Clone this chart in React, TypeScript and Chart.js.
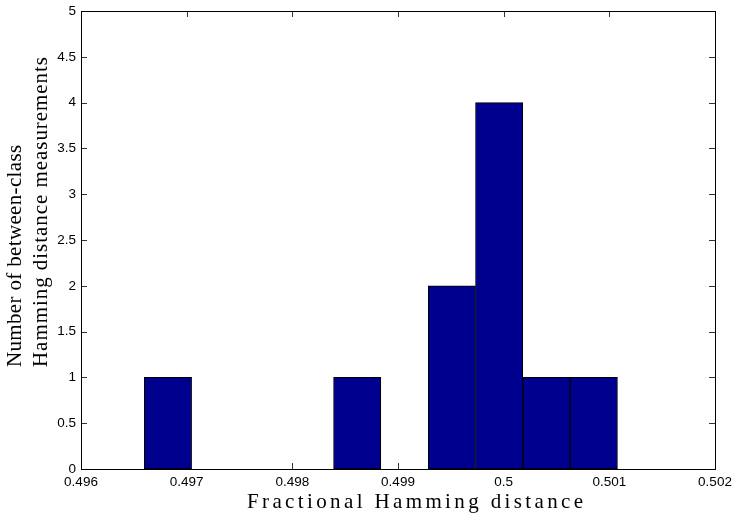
import React, { useEffect, useRef } from 'react';
import { Chart, registerables } from 'chart.js';

Chart.register(...registerables);

// ---- data ----
const binEdges = [0.496599, 0.497047, 0.497495, 0.497943, 0.49839, 0.498838, 0.499286, 0.499734, 0.500181, 0.500629, 0.501077];
const binCounts = [1, 0, 0, 0, 1, 0, 2, 4, 1, 1];
const xTickValues = [0.496, 0.497, 0.498, 0.499, 0.5, 0.501, 0.502];
const xTickLabels = ['0.496', '0.497', '0.498', '0.499', '0.5', '0.501', '0.502'];
const yTickValues = [0, 0.5, 1, 1.5, 2, 2.5, 3, 3.5, 4, 4.5, 5];
const yTickLabels = ['0', '0.5', '1', '1.5', '2', '2.5', '3', '3.5', '4', '4.5', '5'];
const xTitle = 'Fractional Hamming distance';
const yTitleLines = ['Number of between-class', 'Hamming distance measurements'];

// ---- styles ----
const BAR_FILL = 'rgb(0,0,143)';
const TICK_FONT = { family: '"Liberation Sans", Arial, sans-serif', size: 13.5 };
const TITLE_FONT = '21px "Liberation Serif", "Times New Roman", serif';
const TICK_LEN = 6;

function drawSpaced(ctx: CanvasRenderingContext2D, text: string, x: number, y: number, targetWidth: number) {
  const anyCtx = ctx as any;
  anyCtx.letterSpacing = '0px';
  const w = ctx.measureText(text).width;
  const n = Array.from(text).length;
  const ls = n > 1 ? Math.max(0, (targetWidth - w) / (n - 1)) : 0;
  anyCtx.letterSpacing = ls.toFixed(2) + 'px';
  ctx.fillText(text, x, y);
  anyCtx.letterSpacing = '0px';
}

const matlabAxesPlugin = {
  id: 'matlabAxes',
  beforeDatasetsDraw(chart: any) {
    const { ctx, chartArea: a, scales } = chart;
    const x = scales.x;
    const y = scales.y;
    ctx.save();
    ctx.strokeStyle = '#333';
    ctx.lineWidth = 1;
    ctx.beginPath();
    x.ticks.forEach((_t: any, i: number) => {
      const px = Math.round(x.getPixelForTick(i)) + 0.5;
      ctx.moveTo(px, a.bottom);
      ctx.lineTo(px, a.bottom - TICK_LEN);
      ctx.moveTo(px, a.top);
      ctx.lineTo(px, a.top + TICK_LEN);
    });
    y.ticks.forEach((_t: any, i: number) => {
      const py = Math.round(y.getPixelForTick(i)) + 0.5;
      ctx.moveTo(a.left, py);
      ctx.lineTo(a.left + TICK_LEN, py);
      ctx.moveTo(a.right, py);
      ctx.lineTo(a.right - TICK_LEN, py);
    });
    ctx.stroke();
    ctx.restore();
  },
  afterDatasetsDraw(chart: any) {
    const { ctx, chartArea: a } = chart;
    ctx.save();
    ctx.strokeStyle = '#000';
    ctx.lineWidth = 1;
    ctx.strokeRect(Math.round(a.left) + 0.5, Math.round(a.top) + 0.5, Math.round(a.right - a.left), Math.round(a.bottom - a.top));
    ctx.restore();
  },
  afterDraw(chart: any) {
    const { ctx } = chart;
    ctx.save();
    ctx.fillStyle = '#000';
    ctx.font = TITLE_FONT;
    ctx.textBaseline = 'alphabetic';
    ctx.textAlign = 'left';
    drawSpaced(ctx, xTitle, 247, 508, 336);
    ctx.rotate(-Math.PI / 2);
    // rotated: x' = -y, y' = x
    drawSpaced(ctx, yTitleLines[0], -367, 21, 222);
    drawSpaced(ctx, yTitleLines[1], -367, 47, 310);
    ctx.restore();
  },
};

export default function App() {
  const canvasRef = useRef<HTMLCanvasElement | null>(null);

  useEffect(() => {
    const canvas = canvasRef.current;
    if (!canvas) return;
    const points = binCounts.map((c, i) => ({ x: (binEdges[i] + binEdges[i + 1]) / 2, y: c }));
    const chart = new Chart(canvas, {
      type: 'bar',
      data: {
        datasets: [
          {
            data: points as any,
            backgroundColor: BAR_FILL,
            borderColor: '#000',
            borderWidth: 1,
            borderSkipped: false,
            barPercentage: 1,
            categoryPercentage: 1,
          },
        ],
      },
      options: {
        animation: false,
        responsive: true,
        maintainAspectRatio: false,
        layout: { padding: { left: 0, top: 11, right: 18, bottom: 0 } },
        plugins: { legend: { display: false }, tooltip: { enabled: false } },
        scales: {
          x: {
            type: 'linear',
            min: 0.496,
            max: 0.502,
            offset: false,
            afterBuildTicks: (s: any) => {
              s.ticks = xTickValues.map((v) => ({ value: v }));
            },
            afterFit: (s: any) => {
              s.height = 48;
              s.paddingLeft = 0;
              s.paddingRight = 0;
            },
            grid: { display: false, drawTicks: false },
            border: { display: false },
            ticks: {
              padding: 5,
              color: '#000',
              font: TICK_FONT,
              maxRotation: 0,
              autoSkip: false,
              callback: (_v: any, i: number) => xTickLabels[i],
            },
          },
          y: {
            type: 'linear',
            min: 0,
            max: 5,
            afterBuildTicks: (s: any) => {
              s.ticks = yTickValues.map((v) => ({ value: v }));
            },
            afterFit: (s: any) => {
              s.width = 81;
              s.paddingTop = 0;
              s.paddingBottom = 0;
            },
            grid: { display: false, drawTicks: false },
            border: { display: false },
            ticks: {
              padding: 5,
              color: '#000',
              font: TICK_FONT,
              autoSkip: false,
              callback: (_v: any, i: number) => yTickLabels[i],
            },
          },
        },
      },
      plugins: [matlabAxesPlugin],
    });
    return () => chart.destroy();
  }, []);

  return (
    <div style={{ position: 'absolute', left: 0, top: 0, width: 733, height: 517, background: '#fff' }}>
      <canvas ref={canvasRef} />
    </div>
  );
}
